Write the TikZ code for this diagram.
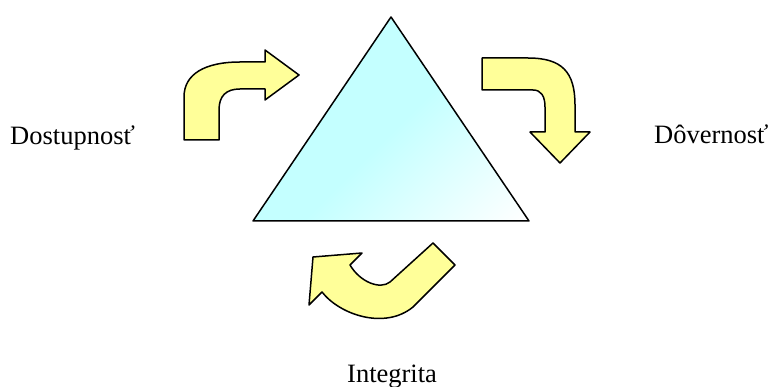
\documentclass[tikz,border=0pt]{standalone}
\usepackage{fontspec}
\setmainfont{Liberation Serif}
\definecolor{arrowyellow}{HTML}{FFFF99}
\definecolor{tricyan}{HTML}{C4FFFF}
\definecolor{trilight}{HTML}{E0FFFF}
\pgfdeclarehorizontalshading{trishade}{100bp}{color(0bp)=(trilight); color(35bp)=(tricyan); color(52bp)=(tricyan); color(85bp)=(white); color(100bp)=(white)}
\tikzset{
  bentarrow/.style={draw=black, line width=1.5pt, fill=arrowyellow, line join=round},
  label/.style={font=\fontsize{26.5}{30}\selectfont, inner sep=0pt, anchor=base west}
}
\begin{document}
\begin{tikzpicture}[x=1pt,y=-1pt]
\useasboundingbox (0,0) rectangle (770,387);
% triangle
\shade[shading=trishade, shading angle=-45] (391,17) -- (529,221) -- (253,221) -- cycle;
\draw[line width=1.5pt, line join=round] (391,17) -- (529,221) -- (253,221) -- cycle;
% left arrow
\draw[bentarrow] (184,140) -- (184,97) .. controls (184,74) and (205,62) .. (240,62)
  -- (265,62) -- (265,50) -- (299,75) -- (265,100) -- (265,89) -- (240,89)
  .. controls (226,89) and (219,96) .. (219,110) -- (219,140) -- cycle;
% right arrow
\draw[bentarrow] (482,58) -- (528,58) .. controls (562,58) and (575,72) .. (575,105)
  -- (575,132) -- (590,132) -- (560,163) -- (530,132) -- (545,132) -- (545,107)
  .. controls (545,96) and (541,90) .. (533,90) -- (482,90) -- cycle;
% bottom arrow
\draw[bentarrow] (455,265) -- (433,243) -- (390,282)
  .. controls (380,290) and (360,282) .. (350,265)
  -- (362,253) -- (313,257) -- (309,305) -- (322,292)
  .. controls (340,315) and (385,330) .. (413,307) -- cycle;
% labels
\node[label] (dost) at (10,145) {Dostupnosť};
\node[label] (dove) at (654,144) {Dôvernosť};
\node[label] (integ) at (347,382) {Integrita};
\end{tikzpicture}
\end{document}
